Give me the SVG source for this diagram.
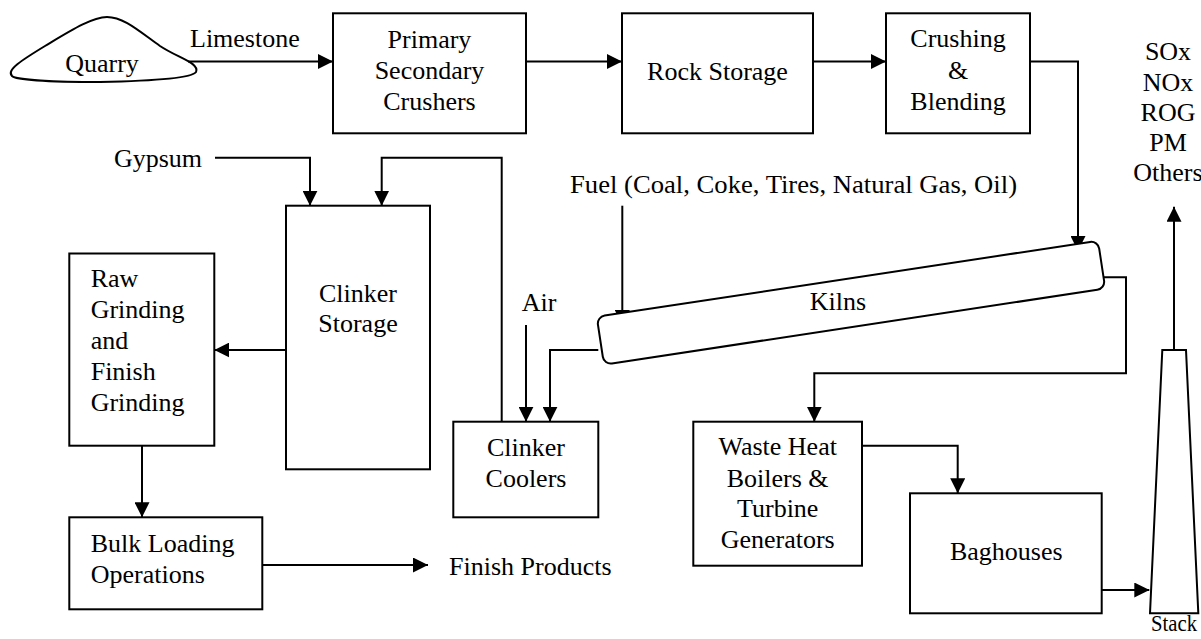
<svg xmlns="http://www.w3.org/2000/svg" width="1201" height="639" viewBox="0 0 1201 639">
  <style>
    .box { fill: #fff; stroke: #000; stroke-width: 2; }
    .line { fill: none; stroke: #000; stroke-width: 2; }
    .arrow { fill: none; stroke: #000; stroke-width: 2; marker-end: url(#head); }
    .lbl { font-family: "Liberation Serif", "Times New Roman", Tinos, "DejaVu Serif", serif; font-size: 26px; fill: #000; }
    .c { text-anchor: middle; }
  </style>
  <defs>
    <marker id="head" markerUnits="userSpaceOnUse" markerWidth="15" markerHeight="15" refX="15" refY="7.5" orient="auto">
      <path d="M0,0 L15,7.5 L0,15 Z" fill="#000"/>
    </marker>
  </defs>
  <rect width="1201" height="639" fill="#fff"/>

  <!-- connectors -->
  <g id="connectors">
    <path class="arrow" d="M188,61.5 H333"/>
    <path class="arrow" d="M526,61.5 H622"/>
    <path class="arrow" d="M813,61.5 H886"/>
    <path class="arrow" d="M1030,61.5 H1078 V251"/>
    <path class="arrow" d="M215,157.7 H310 V205.7"/>
    <path class="arrow" d="M501.7,421.7 V157.7 H381.7 V205.7"/>
    <path class="arrow" d="M622.3,205.7 V325"/>
    <path class="arrow" d="M526,325 V421.7"/>
    <path class="arrow" d="M598.3,350 H550 V421.7"/>
    <path class="arrow" d="M1103.3,277.3 H1126 V373.3 H814.3 V421.7"/>
    <path class="arrow" d="M862,445.7 H957.7 V493.3"/>
    <path class="arrow" d="M1101.7,590 H1149.3"/>
    <path class="arrow" d="M1174,350 V206.7"/>
    <path class="arrow" d="M286,350 H214.3"/>
    <path class="arrow" d="M142,445.7 V517.3"/>
    <path class="arrow" d="M262.3,565 H428"/>
  </g>

  <g class="lbl" font-family="Liberation Serif, Times New Roman, serif" font-size="26">
    <!-- free labels -->
    <text x="190" y="46.5">Limestone</text>
    <text x="202" y="166.5" text-anchor="end">Gypsum</text>
    <text x="570" y="193" textLength="447" lengthAdjust="spacingAndGlyphs">Fuel (Coal, Coke, Tires, Natural Gas, Oil)</text>
    <text x="539" y="311" class="c">Air</text>
    <text x="449" y="575">Finish Products</text>
    <g id="emissions">
      <text x="1168" y="60" class="c">SOx</text>
      <text x="1168" y="91" class="c">NOx</text>
      <text x="1168" y="121" class="c">ROG</text>
      <text x="1168" y="151" class="c">PM</text>
      <text x="1168" y="181" class="c">Others</text>
    </g>

    <!-- nodes -->
    <g id="quarry">
      <path class="line" fill="#fff" d="M12,76 C6,70 22,60 45,46 C70,31 92,17 107,17 C124,17 140,32 160,46 C178,58 200,63 196,72 C192,78 150,81 100,82 C55,82 16,80 12,76 Z"/>
      <text x="102" y="72" class="c">Quarry</text>
    </g>

    <g id="crushers">
      <rect class="box" x="333" y="13.3" width="193" height="120"/>
      <text x="429.5" y="48" class="c">Primary</text>
      <text x="429.5" y="79" class="c">Secondary</text>
      <text x="429.5" y="110" class="c">Crushers</text>
    </g>

    <g id="rock-storage">
      <rect class="box" x="622" y="13.3" width="191" height="120"/>
      <text x="717.5" y="80" class="c">Rock Storage</text>
    </g>

    <g id="blending">
      <rect class="box" x="886" y="13.3" width="144" height="120"/>
      <text x="958" y="47" class="c">Crushing</text>
      <text x="958" y="78.5" class="c">&amp;</text>
      <text x="958" y="110" class="c">Blending</text>
    </g>

    <g id="kilns">
      <rect class="box" x="-253.5" y="-24.2" width="507" height="48.4" rx="8" transform="translate(851,302.7) rotate(-8.63)"/>
      <text x="838" y="310" class="c">Kilns</text>
    </g>

    <g id="clinker-storage">
      <rect class="box" x="286" y="205.7" width="144" height="263.6"/>
      <text x="358" y="301.7" class="c">Clinker</text>
      <text x="358" y="331.7" class="c">Storage</text>
    </g>

    <g id="grinding">
      <rect class="box" x="69.3" y="253.5" width="145" height="192.2"/>
      <text x="90.7" y="287.3">Raw</text>
      <text x="90.7" y="318">Grinding</text>
      <text x="90.7" y="349">and</text>
      <text x="90.7" y="380">Finish</text>
      <text x="90.7" y="410.7">Grinding</text>
    </g>

    <g id="bulk-loading">
      <rect class="box" x="69.3" y="517.3" width="193" height="92"/>
      <text x="90.7" y="551.7">Bulk Loading</text>
      <text x="90.7" y="583.3">Operations</text>
    </g>

    <g id="clinker-coolers">
      <rect class="box" x="453.3" y="421.7" width="145" height="95.6"/>
      <text x="526" y="456" class="c">Clinker</text>
      <text x="526" y="487.3" class="c">Coolers</text>
    </g>

    <g id="waste-heat">
      <rect class="box" x="693.3" y="421.7" width="168.7" height="144"/>
      <text x="777.7" y="455" class="c">Waste Heat</text>
      <text x="777.7" y="486.7" class="c">Boilers &amp;</text>
      <text x="777.7" y="517.3" class="c">Turbine</text>
      <text x="777.7" y="548.3" class="c">Generators</text>
    </g>

    <g id="baghouses">
      <rect class="box" x="910" y="493.3" width="191.7" height="120"/>
      <text x="1006.3" y="560" class="c">Baghouses</text>
    </g>

    <g id="stack">
      <polygon class="box" points="1162.3,350 1186,350 1198.3,613.3 1150,613.3"/>
      <text x="1151" y="631" font-size="23" textLength="46" lengthAdjust="spacingAndGlyphs">Stack</text>
    </g>
  </g>
</svg>
